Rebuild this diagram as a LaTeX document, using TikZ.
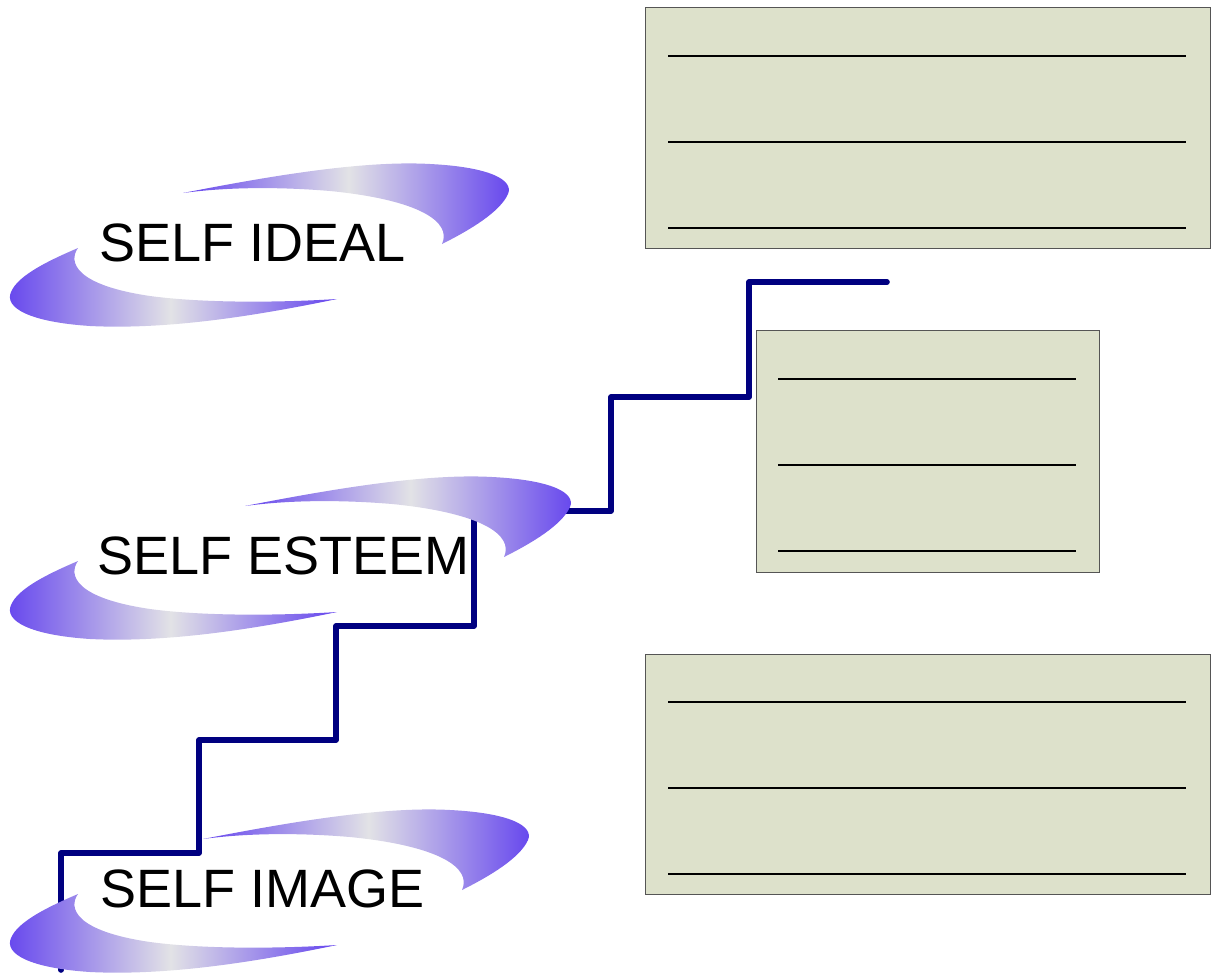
\documentclass[tikz,border=0pt]{standalone}
\usepackage{fontspec}
\setmainfont{Liberation Sans}

\definecolor{swpurple}{RGB}{100,68,238}
\definecolor{swgrey}{RGB}{226,226,230}
\definecolor{stairblue}{RGB}{0,0,128}
\definecolor{notefill}{RGB}{221,225,203}

\tikzset{every picture/.style={line width=0.75pt},
  swshade/.style={left color=swpurple, right color=swpurple, middle color=swgrey},
  swtext/.style={anchor=west, inner sep=0pt, font=\fontsize{40.5}{48}\selectfont},
  notebox/.style={draw={rgb, 255:red, 85; green, 85; blue, 85}, fill=notefill, line width=0.75pt},
  noteline/.style={draw=black, line width=2.1pt}
}

\begin{document}
\begin{tikzpicture}[x=0.75pt,y=0.75pt,yscale=-1,xscale=1]
\path[use as bounding box] (0,0) rectangle (1212,977);

%Stairs
\draw [color=stairblue, line width=4.2pt, line cap=round, line join=round] (61,970) -- (61,853) -- (199,853) -- (199,740) -- (336,740) -- (336,626) -- (474,626) -- (474,511) -- (611,511) -- (611,397) -- (749,397) -- (749,282) -- (887,282) ;

%Swooshes, upper crescents
\foreach \dx/\dy in {0/0, 62/313, 20/646} {
\begin{scope}[shift={(\dx,\dy)}]
\path[swshade] (183,193) .. controls (260,178) and (360,160) .. (430,164) .. controls (490,167) and (514,180) .. (508,194) .. controls (500,212) and (470,230) .. (442,244) .. controls (452,222) and (420,200) .. (330,191) .. controls (270,186) and (220,188) .. (183,193) -- cycle;
\end{scope}
}
%Swooshes, lower crescents
\foreach \dy in {0, 313, 646} {
\begin{scope}[shift={(0,\dy)}]
\path[swshade] (337,299) .. controls (260,315) and (170,330) .. (90,326) .. controls (30,322) and (4,308) .. (11,292) .. controls (18,275) and (50,260) .. (78,248) .. controls (68,262) and (75,285) .. (150,296) .. controls (210,304) and (290,302) .. (337,299) -- cycle;
\end{scope}
}

% Text Node
\node [swtext] (ideal) at (99,243) {SELF IDEAL};
% Text Node
\node [swtext] (esteem) at (97,556) {SELF ESTEEM};
% Text Node
\node [swtext] (image) at (100,889) {SELF IMAGE};

%Note boxes
\draw [notebox] (645,8) rectangle (1210,248);
\draw [noteline] (668,56) -- (1186,56);
\draw [noteline] (668,142) -- (1186,142);
\draw [noteline] (668,228) -- (1186,228);

\draw [notebox] (756,330) rectangle (1099,572);
\draw [noteline] (778,379) -- (1076,379);
\draw [noteline] (778,465) -- (1076,465);
\draw [noteline] (778,551) -- (1076,551);

\draw [notebox] (645,654) rectangle (1210,894);
\draw [noteline] (668,702) -- (1186,702);
\draw [noteline] (668,788) -- (1186,788);
\draw [noteline] (668,874) -- (1186,874);
\end{tikzpicture}
\end{document}
